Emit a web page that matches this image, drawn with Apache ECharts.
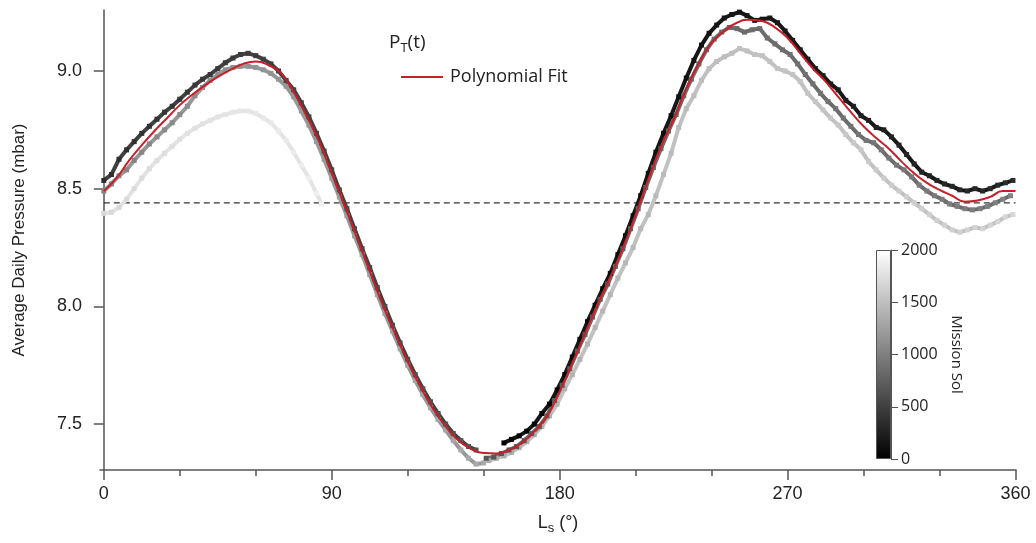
<!DOCTYPE html>
<html><head><meta charset="utf-8">
<script src="https://cdn.jsdelivr.net/npm/echarts@6/dist/echarts.min.js"></script>
<style>html,body{margin:0;padding:0;background:#fff}#c{width:1036px;height:543px}</style>
</head><body><div id="c"></div>
<script>
// Tick labels
const xTickLabels = [0, 90, 180, 270, 360];
const xMinorTicks = [30, 60, 120, 150, 210, 240, 300, 330];
const yTickLabels = [7.5, 8.0, 8.5, 9.0];
const solTicks = [0, 500, 1000, 1500, 2000];
const meanPressure = 8.44;

// Polynomial fit  (Ls in degrees, pressure in mbar)
const fitLs = [0,5,10,15,20,25,30,35,40,45,50,55,60,65,70,75,80,85,90,95,100,105,110,115,120,125,130,135,140,145,150,155,160,165,170,175,180,185,190,195,200,205,210,215,220,225,230,235,240,245,250,255,260,265,270,275,280,285,290,295,300,305,310,315,320,325,330,335,340,345,350,355,360];
const fitP = [8.49,8.545,8.62,8.685,8.745,8.80,8.855,8.90,8.94,8.975,9.005,9.03,9.04,9.025,8.99,8.91,8.81,8.70,8.565,8.43,8.29,8.15,8.01,7.885,7.765,7.66,7.565,7.49,7.43,7.395,7.377,7.375,7.39,7.42,7.47,7.535,7.64,7.76,7.885,8.01,8.125,8.25,8.39,8.54,8.68,8.795,8.925,9.035,9.12,9.17,9.205,9.218,9.212,9.185,9.14,9.075,9.01,8.955,8.89,8.825,8.765,8.715,8.67,8.615,8.565,8.525,8.495,8.47,8.445,8.45,8.465,8.49,8.49];

// Daily points: [Ls, pressure (mbar), mission sol]
const trackA = [[158,7.42,15],[161,7.435,20],[164,7.45,26],[167,7.47,31],[170,7.50,37],[173,7.545,42],[176,7.585,48],[179,7.645,53],[182,7.71,58],[185,7.785,63],[188,7.86,68],[191,7.935,72],[194,8.005,77],[197,8.075,82],[200,8.14,87],[203,8.22,91],[206,8.30,96],[209,8.385,101],[212,8.47,106],[215,8.565,110],[218,8.655,115],[221,8.735,120],[224,8.81,125],[227,8.89,129],[230,8.97,134],[233,9.045,139],[236,9.11,144],[239,9.16,148],[242,9.195,153],[245,9.225,158],[248,9.24,163],[251,9.25,167],[254,9.235,172],[257,9.215,177],[260,9.22,181],[263,9.225,186],[266,9.205,191],[269,9.17,196],[272,9.13,200],[275,9.09,205],[278,9.05,211],[281,9.01,216],[284,8.98,221],[287,8.945,226],[290,8.92,231],[293,8.875,236],[296,8.85,241],[299,8.81,246],[302,8.79,251],[305,8.76,256],[308,8.75,262],[311,8.72,267],[314,8.685,272],[317,8.645,277],[320,8.605,282],[323,8.57,287],[326,8.555,292],[329,8.535,298],[332,8.52,303],[335,8.51,308],[338,8.495,313],[341,8.49,318],[344,8.50,323],[347,8.49,328],[350,8.50,334],[353,8.515,339],[356,8.525,344],[359,8.535,349]];
const trackB = [[0,8.535,352],[3,8.56,358],[6,8.625,365],[9,8.665,371],[12,8.70,378],[15,8.735,384],[18,8.765,391],[21,8.795,397],[24,8.825,404],[27,8.85,410],[30,8.88,417],[33,8.91,423],[36,8.94,430],[39,8.965,436],[42,8.985,443],[45,9.01,449],[48,9.035,456],[51,9.055,462],[54,9.07,469],[57,9.075,475],[60,9.065,482],[63,9.05,488],[66,9.03,495],[69,9.0,501],[72,8.96,508],[75,8.92,514],[78,8.865,521],[81,8.805,527],[84,8.735,534],[87,8.66,540],[90,8.58,546],[93,8.495,552],[96,8.415,558],[99,8.33,564],[102,8.245,570],[105,8.165,576],[108,8.08,582],[111,8.0,588],[114,7.92,594],[117,7.845,600],[120,7.775,606],[123,7.71,612],[126,7.65,618],[129,7.595,624],[132,7.545,630],[135,7.50,636],[138,7.46,642],[141,7.43,648],[144,7.405,654],[147,7.39,660]];
const trackC = [[151,7.355,670],[154,7.36,675],[157,7.375,681],[160,7.39,686],[163,7.405,691],[166,7.43,697],[169,7.46,702],[172,7.49,708],[175,7.535,714],[178,7.60,719],[181,7.665,725],[184,7.735,730],[187,7.81,735],[190,7.88,739],[193,7.955,744],[196,8.03,749],[199,8.095,754],[202,8.17,758],[205,8.245,763],[208,8.33,768],[211,8.415,773],[214,8.505,777],[217,8.59,782],[220,8.67,787],[223,8.745,792],[226,8.815,796],[229,8.895,801],[232,8.965,806],[235,9.03,811],[238,9.09,815],[241,9.135,820],[244,9.165,825],[247,9.185,830],[250,9.18,834],[253,9.165,839],[256,9.175,844],[259,9.18,849],[262,9.14,853],[265,9.115,858],[268,9.09,863],[271,9.07,868],[274,9.03,872],[277,8.985,877],[280,8.945,882],[283,8.905,887],[286,8.87,891],[289,8.84,896],[292,8.80,901],[295,8.765,906],[298,8.73,911],[301,8.705,916],[304,8.695,922],[307,8.665,927],[310,8.63,932],[313,8.60,937],[316,8.58,943],[319,8.55,948],[322,8.515,953],[325,8.49,958],[328,8.47,963],[331,8.455,968],[334,8.435,973],[337,8.425,979],[340,8.415,984],[343,8.41,989],[346,8.415,994],[349,8.425,999],[352,8.44,1005],[355,8.455,1010],[358,8.47,1015]];
const trackD = [[0,8.49,1021],[3,8.52,1027],[6,8.555,1034],[9,8.58,1040],[12,8.62,1047],[15,8.655,1053],[18,8.69,1060],[21,8.72,1066],[24,8.75,1073],[27,8.78,1079],[30,8.815,1086],[33,8.85,1092],[36,8.895,1099],[39,8.93,1105],[42,8.96,1112],[45,8.985,1118],[48,9.005,1125],[51,9.015,1131],[54,9.02,1138],[57,9.02,1144],[60,9.015,1151],[63,9.005,1157],[66,8.99,1164],[69,8.965,1170],[72,8.935,1177],[75,8.89,1183],[78,8.83,1190],[81,8.77,1196],[84,8.70,1203],[87,8.625,1209],[90,8.545,1215],[93,8.465,1221],[96,8.385,1227],[99,8.30,1233],[102,8.22,1239],[105,8.135,1245],[108,8.05,1251],[111,7.97,1257],[114,7.895,1263],[117,7.82,1269],[120,7.75,1275],[123,7.685,1281],[126,7.625,1287],[129,7.57,1293],[132,7.52,1299],[135,7.475,1305],[138,7.43,1311],[141,7.39,1317],[144,7.355,1323],[147,7.33,1329],[150,7.335,1335]];
const trackE = [[152,7.345,1340],[155,7.355,1345],[158,7.365,1351],[161,7.38,1356],[164,7.40,1362],[167,7.425,1367],[170,7.455,1373],[173,7.49,1378],[176,7.535,1384],[179,7.585,1389],[182,7.65,1394],[185,7.71,1399],[188,7.775,1404],[191,7.84,1408],[194,7.91,1413],[197,7.98,1418],[200,8.05,1423],[203,8.12,1427],[206,8.185,1432],[209,8.25,1437],[212,8.33,1442],[215,8.39,1446],[218,8.47,1451],[221,8.56,1456],[224,8.65,1461],[227,8.76,1465],[230,8.84,1470],[233,8.895,1475],[236,8.96,1480],[239,9.01,1484],[242,9.04,1489],[245,9.06,1494],[248,9.075,1499],[251,9.095,1503],[254,9.085,1508],[257,9.07,1513],[260,9.065,1518],[263,9.04,1522],[266,9.01,1527],[269,9.0,1532],[272,8.985,1537],[275,8.955,1541],[278,8.905,1546],[281,8.87,1551],[284,8.835,1556],[287,8.80,1561],[290,8.77,1566],[293,8.73,1571],[296,8.695,1576],[299,8.665,1581],[302,8.615,1587],[305,8.58,1592],[308,8.545,1597],[311,8.515,1602],[314,8.49,1607],[317,8.465,1613],[320,8.44,1618],[323,8.415,1623],[326,8.39,1628],[329,8.365,1633],[332,8.345,1638],[335,8.325,1644],[338,8.315,1649],[341,8.325,1654],[344,8.335,1659],[347,8.33,1664],[350,8.345,1669],[353,8.36,1675],[356,8.38,1680],[359,8.39,1685]];
const trackF = [[0,8.395,1690],[3,8.40,1696],[6,8.42,1703],[9,8.455,1709],[12,8.50,1716],[15,8.545,1722],[18,8.585,1729],[21,8.62,1735],[24,8.65,1742],[27,8.68,1748],[30,8.71,1755],[33,8.735,1761],[36,8.757,1768],[39,8.775,1774],[42,8.79,1781],[45,8.805,1787],[48,8.815,1794],[51,8.825,1800],[54,8.83,1807],[57,8.83,1813],[60,8.82,1820],[63,8.80,1826],[66,8.78,1833],[69,8.745,1839],[72,8.705,1846],[75,8.655,1852],[78,8.60,1859],[81,8.545,1865],[84,8.48,1872],[86,8.435,1876]];

const solMax = 2000;
const tracks = [trackF, trackE, trackD, trackC, trackB, trackA];

function grayFor(track) {
  let s = 0; track.forEach(d => s += d[2]);
  const g = Math.round(255 * (s / track.length) / solMax);
  return 'rgb(' + g + ',' + g + ',' + g + ')';
}

const axisFont = 'Liberation Sans';
const labelFont = 'Open Sans';

const series = tracks.map(t => ({
  type: 'line', xAxisIndex: 0, yAxisIndex: 0,
  data: t, encode: { x: 0, y: 1 },
  symbol: 'rect', symbolSize: 5, showAllSymbol: true,
  lineStyle: { width: 4, color: grayFor(t) },
  itemStyle: { borderWidth: 0 },
  silent: true, animation: false, z: 2
}));

series.push({
  type: 'line', name: 'Mean', xAxisIndex: 0, yAxisIndex: 0,
  data: [[0, meanPressure], [360, meanPressure]],
  symbol: 'none', lineStyle: { color: '#333', width: 1.2, type: [6, 4] },
  silent: true, animation: false, z: 1
});
series.push({
  type: 'line', name: 'Polynomial Fit', xAxisIndex: 0, yAxisIndex: 0,
  data: fitLs.map((l, i) => [l, fitP[i]]),
  smooth: true, symbol: 'none',
  lineStyle: { color: '#c8202a', width: 2 },
  itemStyle: { color: '#c8202a' },
  silent: true, animation: false, z: 5
});
series.push({
  type: 'bar', xAxisIndex: 2, yAxisIndex: 1,
  data: [solMax], barWidth: '100%',
  itemStyle: {
    color: new echarts.graphic.LinearGradient(0, 0, 0, 1, [{ offset: 0, color: '#ffffff' }, { offset: 1, color: '#000000' }]),
    borderColor: '#555', borderWidth: 1
  },
  silent: true, animation: false
});

const chart = echarts.init(document.getElementById('c'), null, { renderer: 'canvas' });
chart.setOption({
  backgroundColor: '#fff',
  animation: false,
  grid: [
    { left: 100, right: 20, top: 10, bottom: 73 },
    { left: 876, top: 250, width: 15, height: 209 }
  ],
  xAxis: [
    {
      gridIndex: 0, type: 'value', min: -1.5, max: 360.2,
      axisLine: { lineStyle: { color: '#555', width: 1.5 } },
      axisTick: { customValues: xTickLabels, length: 10, lineStyle: { color: '#555', width: 1.5 } },
      axisLabel: { customValues: xTickLabels, fontSize: 18, fontFamily: axisFont, color: '#222', margin: 15 },
      splitLine: { show: false },
      name: '{a|L}{b|s}{a| (°)}', nameLocation: 'middle', nameGap: 42,
      nameTextStyle: { rich: { a: { fontSize: 18, fontFamily: axisFont, color: '#222' }, b: { fontSize: 13, fontFamily: axisFont, color: '#222', padding: [10, 0, 0, 0] } } }
    },
    {
      gridIndex: 0, type: 'value', min: -1.5, max: 360.2, position: 'bottom',
      axisLine: { show: false },
      axisTick: { customValues: xMinorTicks, length: 6, lineStyle: { color: '#555', width: 1.5 } },
      axisLabel: { show: false }, splitLine: { show: false }
    },
    {
      gridIndex: 1, type: 'category', data: [''],
      axisLine: { show: false }, axisTick: { show: false }, axisLabel: { show: false }
    }
  ],
  yAxis: [
    {
      gridIndex: 0, type: 'value', min: 7.305, max: 9.259,
      axisLine: { show: true, lineStyle: { color: '#555', width: 1.5 } },
      axisTick: { show: true, customValues: yTickLabels, length: 10, lineStyle: { color: '#555', width: 1.5 } },
      axisLabel: { customValues: yTickLabels, formatter: v => v.toFixed(1), fontSize: 18, fontFamily: axisFont, color: '#222', margin: 18 },
      splitLine: { show: false },
      name: 'Average Daily Pressure (mbar)', nameLocation: 'middle', nameGap: 72,
      nameTextStyle: { fontSize: 17, fontFamily: axisFont, color: '#222' }
    },
    {
      gridIndex: 1, type: 'value', min: 0, max: solMax, interval: 500, position: 'right',
      axisLine: { show: true, lineStyle: { color: '#555', width: 1 } },
      axisTick: { show: true, length: 7, lineStyle: { color: '#555', width: 1 } },
      axisLabel: { customValues: solTicks, formatter: v => String(v), fontSize: 16, fontFamily: labelFont, color: '#222', margin: 10 },
      splitLine: { show: false },
      name: 'Mission Sol', nameLocation: 'middle', nameRotate: -90, nameGap: 58,
      nameTextStyle: { fontSize: 15, fontFamily: labelFont, color: '#222' }
    }
  ],
  visualMap: {
    type: 'continuous', show: false, min: 0, max: solMax, dimension: 2,
    seriesIndex: [0, 1, 2, 3, 4, 5],
    inRange: { color: ['#000000', '#ffffff'] }
  },
  legend: {
    data: [{ name: 'Polynomial Fit', icon: 'rect' }], left: 396, top: 63, itemWidth: 42, itemHeight: 2, itemGap: 10,
    textStyle: { fontSize: 18, fontFamily: labelFont, color: '#222', padding: [0, 0, 0, 2] }
  },
  graphic: [{
    type: 'text', left: 389, top: 33,
    style: {
      text: '{a|P}{b|T}{a|(t)}',
      rich: { a: { fontSize: 19, fontFamily: labelFont, fill: '#222' }, b: { fontSize: 13, fontFamily: labelFont, fill: '#222', padding: [11, 0, 0, 0] } }
    }
  }],
  series: series
});
</script></body></html>
